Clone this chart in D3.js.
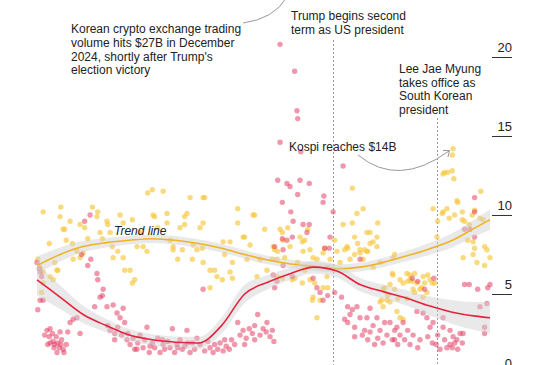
<!DOCTYPE html>
<html>
<head>
<meta charset="utf-8">
<script src="https://cdn.jsdelivr.net/npm/d3@7"></script>
<style>
  html, body { margin: 0; padding: 0; background: #fff; }
  svg { display: block; font-family: "Liberation Sans", Arial, sans-serif; }
</style>
</head>
<body>
<svg id="chart" width="546" height="365"></svg>
<script>
// ── data: day offset from 2024-01-01, value in $B ──
const startDate = new Date(2024, 0, 1);
const lastDay = 589;

// Korean crypto exchange daily trading volume
const cryptoPts = [
  [0,7.0],[3,6.6],[4,6.4],[6,6.1],[1,4.0],[4,4.6],[8,4.6],[13,2.7],[16,2.3],[17,1.9],[20,2.5],[21,2.0],
  [23,1.8],[25,2.3],[27,1.9],[29,1.6],[30,2.6],[32,2.1],[34,1.5],[35,1.3],[38,1.8],[40,2.6],[43,3.2],
  [47,3.4],[52,3.5],[56,2.5],[58,7.5],[62,9.6],[66,6.8],[69,10.0],[70,7.2],[75,4.2],[78,6.3],[79,5.9],
  [82,4.8],[85,4.9],[86,5.3],[91,4.2],[92,3.0],[95,2.7],[99,4.3],[101,2.5],[104,3.8],[105,2.9],[108,3.5],
  [110,2.4],[112,4.1],[114,3.2],[117,2.1],[121,1.8],[125,2.2],[127,1.5],[131,1.9],[134,2.4],[138,1.6],
  [140,2.1],[143,2.9],[146,1.3],[150,1.9],[153,1.6],[157,2.2],[160,1.3],[164,1.8],[166,1.5],[170,2.0],
  [173,1.6],[176,2.8],[179,1.3],[182,1.8],[186,2.1],[189,1.5],[192,1.7],[195,2.7],[199,1.3],[202,1.9],
  [205,1.5],[208,2.2],[212,1.8],[216,5.3],[218,1.4],[222,2.0],[225,1.6],[229,1.3],[231,1.8],[235,1.5],
  [238,1.9],[242,1.4],[246,1.7],[250,1.5],[253,2.1],[257,1.8],[261,3.2],[264,2.4],[268,2.7],[272,2.2],
  [276,2.8],[280,2.5],[283,3.0],[287,3.7],[290,2.4],[294,2.8],[298,2.6],[299,3.2],[303,2.3],[306,2.7],
  [308,2.0],[309,8.0],[307,6.2],[309,5.4],[312,5.8],[313,12.2],[316,20.8],[316,14.6],[319,10.8],[319,8.5],
  [320,7.8],[320,6.8],[325,12.0],[325,8.4],[329,11.8],[330,10.2],[332,8.6],[332,6.1],[333,9.6],[335,19.1],
  [338,16.6],[339,16.1],[339,11.3],[342,12.2],[343,14.0],[346,9.4],[351,8.9],[354,12.0],[354,9.4],[359,6.0],
  [364,5.4],[368,5.1],[372,10.8],[372,4.6],[373,11.2],[374,7.9],[378,4.9],[380,7.9],[381,8.6],[385,10.2],
  [387,5.1],[396,4.8],[398,13.1],[400,3.4],[404,4.2],[404,3.2],[407,3.7],[410,4.0],[413,2.9],[416,4.2],
  [420,7.2],[420,3.5],[423,2.4],[426,2.7],[429,3.5],[430,2.1],[433,4.1],[433,2.6],[437,3.0],[442,3.5],
  [443,2.2],[446,2.7],[450,1.9],[452,3.2],[455,2.4],[459,3.2],[462,2.1],[465,2.7],[468,2.9],[469,1.8],
  [472,2.4],[476,3.2],[478,2.1],[482,2.7],[485,1.8],[488,6.0],[489,2.4],[494,3.9],[495,5.8],[498,2.1],
  [502,3.8],[504,5.3],[507,3.5],[508,2.3],[511,2.9],[515,3.2],[516,6.0],[519,1.8],[521,2.4],[524,1.5],
  [528,3.5],[528,2.9],[530,2.1],[533,1.6],[537,2.7],[540,1.6],[541,2.3],[543,1.9],[546,2.1],[550,2.5],
  [553,1.9],[554,2.5],[556,5.6],[556,9.1],[562,5.6],[563,9.1],[569,11.1],[569,10.2],[569,8.6],[573,5.3],
  [576,4.2],[582,2.9],[582,2.5],[585,4.4],[586,5.4],[589,5.6],
  [10,2.4],[17,2.8],[22,1.6],[26,1.3],[31,1.8],[14,1.8],[101,2.1],[118,2.5],[130,1.5],[147,1.7],[163,2.1],
  [183,1.6],[196,1.9],[244,2.1],[270,1.8],[283,2.1],[413,2.3],[439,1.8],[465,2.1],[495,1.6],[514,1.9],
  [537,1.8],[547,1.5]
];

// Kospi daily trading value
const kospiPts = [
  [1,7.2],[4,6.7],[6,5.1],[8,6.4],[8,10.2],[8,5.7],[16,8.2],[17,6.1],[21,5.9],[26,6.5],[27,6.5],[30,9.9],
  [31,10.5],[34,9.1],[36,9.1],[43,9.6],[46,8.2],[47,7.2],[52,7.7],[56,7.3],[56,9.4],[60,7.6],[62,9.2],
  [72,10.5],[78,9.9],[79,10.2],[82,8.9],[85,8.5],[91,9.6],[92,9.4],[98,8.0],[99,7.3],[105,7.7],[108,10.0],
  [112,9.5],[112,7.3],[114,6.5],[121,6.5],[124,9.7],[124,5.7],[127,5.9],[130,8.0],[138,8.0],[143,7.7],
  [144,11.4],[150,11.6],[151,10.0],[153,9.9],[164,11.5],[169,10.1],[169,9.5],[177,8.0],[177,7.8],[183,7.2],
  [186,9.2],[192,9.9],[192,9.4],[195,10.1],[199,11.1],[202,7.2],[203,8.1],[208,7.8],[212,9.2],[215,7.9],
  [216,11.1],[216,9.5],[216,7.0],[218,11.1],[225,6.5],[225,5.4],[231,6.5],[234,6.1],[241,5.9],[242,8.3],
  [251,8.3],[251,6.4],[254,7.0],[254,6.0],[261,10.4],[261,9.5],[268,8.6],[270,8.6],[273,7.2],[281,10.0],
  [283,10.0],[286,6.1],[290,7.2],[299,6.5],[306,7.2],[307,8.0],[309,7.8],[312,7.2],[312,6.1],[313,7.7],
  [316,9.1],[319,8.9],[319,6.0],[320,8.4],[322,7.3],[326,9.2],[329,8.0],[332,5.9],[335,6.0],[342,8.6],
  [345,8.3],[345,5.7],[346,7.7],[348,8.4],[348,6.5],[352,9.1],[355,7.8],[355,5.9],[358,4.6],[359,7.3],
  [359,4.8],[361,5.7],[364,7.2],[364,3.5],[368,4.6],[372,7.6],[372,5.4],[374,7.9],[377,6.1],[378,6.7],
  [378,5.4],[381,7.2],[390,7.7],[394,7.0],[398,9.4],[400,7.8],[403,8.0],[404,7.9],[407,7.2],[410,11.7],
  [410,9.5],[413,8.6],[413,7.5],[416,10.1],[417,8.2],[420,7.8],[420,7.6],[424,10.4],[424,7.2],[426,7.8],
  [429,8.9],[429,7.7],[430,7.7],[433,8.9],[433,8.2],[437,8.3],[437,6.7],[442,8.6],[442,8.0],[443,9.5],
  [446,4.5],[448,4.6],[450,5.3],[450,4.2],[452,5.4],[455,4.6],[456,4.9],[459,5.6],[459,4.5],[462,6.3],
  [463,7.3],[463,6.2],[465,7.5],[468,3.9],[469,4.7],[472,5.9],[472,3.5],[476,5.7],[476,3.4],[481,6.3],
  [481,4.7],[482,5.8],[485,6.2],[485,5.9],[488,5.8],[489,5.3],[491,6.3],[494,5.7],[498,5.3],[500,5.4],
  [502,6.1],[502,4.8],[507,5.1],[508,6.2],[511,5.9],[514,5.7],[515,10.4],[517,5.7],[520,8.6],[521,9.6],
  [527,10.1],[528,12.6],[528,10.2],[530,12.7],[533,10.4],[534,12.7],[536,9.8],[540,12.8],[540,13.8],
  [541,14.2],[542,12.3],[543,10.0],[546,10.9],[547,10.8],[553,10.2],[553,9.7],[554,7.3],[556,9.6],[560,8.4],
  [562,9.4],[566,10.0],[567,8.3],[567,7.5],[569,7.9],[569,10.3],[572,7.0],[576,9.8],[577,11.5],[580,9.7],
  [582,8.0],[582,6.8],[585,7.8],[589,7.3],
  [23,7.0],[38,8.4],[66,8.5],[95,8.9],[134,8.9],[157,9.2],[173,8.4],[189,7.8],[244,7.5],[277,8.1],
  [296,9.1],[339,7.0],[387,8.4],[446,7.0],[465,5.3],[491,5.1],[504,5.7]
];

// smoothed trends and confidence half-widths
const trendDays   = [0, 30, 60, 90, 120, 150, 180, 210, 240, 270, 300, 330, 360, 390, 420, 450, 480, 510, 540, 570, 589];
const kospiTrend  = [6.8, 7.5, 8.0, 8.25, 8.4, 8.5, 8.4, 8.2, 7.9, 7.5, 7.15, 6.9, 6.75, 6.6, 6.7, 7.0, 7.4, 7.85, 8.4, 9.2, 9.7];
const kospiBand   = [0.58, 0.45, 0.35, 0.3, 0.27, 0.27, 0.27, 0.27, 0.27, 0.27, 0.27, 0.27, 0.27, 0.27, 0.27, 0.3, 0.32, 0.38, 0.45, 0.55, 0.65];
const cryptoTrend = [5.9, 4.8, 3.7, 3.0, 2.4, 2.1, 1.95, 1.9, 3.0, 5.0, 5.75, 6.3, 6.7, 6.45, 5.6, 5.15, 4.75, 4.25, 3.85, 3.6, 3.5];
const cryptoBand  = [1.0, 0.75, 0.55, 0.42, 0.38, 0.36, 0.36, 0.38, 0.5, 0.58, 0.45, 0.4, 0.4, 0.4, 0.42, 0.45, 0.48, 0.6, 0.75, 0.9, 1.0];

const yTicks = [0, 5, 10, 15, 20];
const events = [
  { date: "2025-01-20", top: 40 },
  { date: "2025-06-04", top: 118 }
];

// ── scales ──
const svg = d3.select('#chart');
const day = d => d3.timeDay.offset(startDate, d);
const x = d3.scaleTime().domain([startDate, day(lastDay)]).range([37, 490]);
const y = d3.scaleLinear().domain([0, 20]).range([373, 57]);

// ── y axis (right side, labels above tick line) ──
const axis = svg.append('g').attr('transform', 'translate(512,0)')
  .call(d3.axisLeft(y).tickValues(yTicks).tickSize(20).tickFormat(d3.format('d')));
axis.select('.domain').remove();
axis.selectAll('.tick line').attr('stroke', '#333').attr('stroke-width', 1);
axis.selectAll('.tick text')
  .attr('x', 0).attr('dy', '-0.45em')
  .attr('text-anchor', 'end')
  .attr('font-size', 13)
  .attr('font-family', '"Liberation Sans", Arial, sans-serif')
  .attr('fill', '#222');

// ── event lines ──
const parse = d3.timeParse('%Y-%m-%d');
svg.selectAll('.event').data(events).join('line')
  .attr('class', 'event')
  .attr('x1', d => Math.round(x(parse(d.date))) + 0.5)
  .attr('x2', d => Math.round(x(parse(d.date))) + 0.5)
  .attr('y1', d => d.top).attr('y2', 365)
  .attr('stroke', '#9a9a9a').attr('stroke-width', 1)
  .attr('stroke-dasharray', '2,2');

// ── dots ──
svg.append('g').selectAll('circle').data(kospiPts).join('circle')
  .attr('cx', d => x(day(d[0]))).attr('cy', d => y(d[1])).attr('r', 2.7)
  .attr('fill', '#f7c63a').attr('fill-opacity', 0.65);
svg.append('g').selectAll('circle').data(cryptoPts).join('circle')
  .attr('cx', d => x(day(d[0]))).attr('cy', d => y(d[1])).attr('r', 2.7)
  .attr('fill', '#e2305a').attr('fill-opacity', 0.5);

// ── confidence bands + trend lines ──
function drawTrend(vals, band, color) {
  const rows = trendDays.map((d, i) => ({ d, v: vals[i], h: band[i] }));
  svg.append('path').datum(rows)
    .attr('fill', '#cfcfcf').attr('fill-opacity', 0.45)
    .attr('d', d3.area().curve(d3.curveMonotoneX)
      .x(r => x(day(r.d))).y0(r => y(r.v - r.h)).y1(r => y(r.v + r.h)));
  svg.append('path').datum(rows)
    .attr('fill', 'none').attr('stroke', color).attr('stroke-width', 1.6)
    .attr('d', d3.line().curve(d3.curveMonotoneX)
      .x(r => x(day(r.d))).y(r => y(r.v)));
}
drawTrend(kospiTrend, kospiBand, '#f0b323');
drawTrend(cryptoTrend, cryptoBand, '#e4233f');

// ── annotations ──
function label(lines, tx, ty, lh, opts = {}) {
  const t = svg.append('text')
    .attr('x', tx).attr('y', ty)
    .attr('font-size', opts.size || 12)
    .attr('fill', '#222')
    .attr('font-style', opts.italic ? 'italic' : null);
  lines.forEach((s, i) => t.append('tspan').attr('x', tx).attr('dy', i ? lh : 0).text(s));
}
label(['Korean crypto exchange trading', 'volume hits $27B in December', '2024, shortly after Trump\'s', 'election victory'], 71, 33, 13.8);
label(['Trump begins second', 'term as US president'], 291, 20, 14);
label(['Lee Jae Myung', 'takes office as', 'South Korean', 'president'], 399, 73, 13.6);
label(['Kospi reaches $14B'], 289, 151, 14);
label(['Trend line'], 114, 235, 14, { italic: true });

// connector arcs
svg.append('path')
  .attr('d', 'M243,23 Q274,19 287,-3')
  .attr('fill', 'none').attr('stroke', '#999').attr('stroke-width', 1);
svg.append('path')
  .attr('d', 'M358,155 Q398,188 449,151')
  .attr('fill', 'none').attr('stroke', '#999').attr('stroke-width', 1);
svg.append('path')
  .attr('d', 'M443,150.5 L449.5,150.5 L448,157')
  .attr('fill', 'none').attr('stroke', '#999').attr('stroke-width', 1);
</script>
</body>
</html>
